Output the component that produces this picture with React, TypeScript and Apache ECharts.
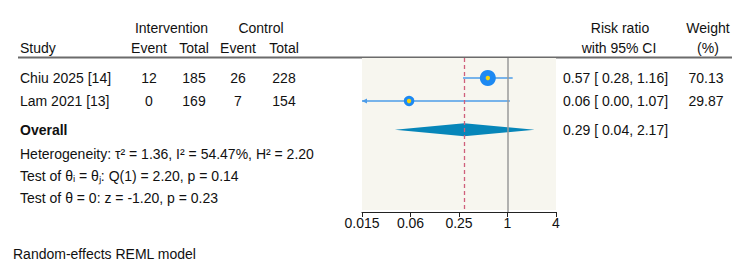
import React, { useEffect, useRef } from "react";
import * as echarts from "echarts";

// Study-level data
const studies = ["Chiu 2025 [14]", "Lam 2021 [13]"];
const interventionEvents = [12, 0];
const interventionTotals = [185, 169];
const controlEvents = [26, 7];
const controlTotals = [228, 154];
const riskRatios = [0.57, 0.06];
const ciLower = [0.28, 0.0];
const ciUpper = [1.16, 1.07];
const weights = [70.13, 29.87];

// Pooled estimate
const overallRR = 0.29;
const overallLower = 0.04;
const overallUpper = 2.17;

const statLines = [
  "Heterogeneity: \u03c4\u00b2 = 1.36, I\u00b2 = 54.47%, H\u00b2 = 2.20",
  "Test of \u03b8\u1d62 = \u03b8\u2c7c: Q(1) = 2.20, p = 0.14",
  "Test of \u03b8 = 0: z = -1.20, p = 0.23",
];

// Log axis (base 4) ticks and their printed labels
const tickValues = [0.015625, 0.0625, 0.25, 1, 4];
const tickLabels = ["0.015", "0.06", "0.25", "1", "4"];

// Row slots on the vertical axis
const studyRows = [1, 2];
const overallRow = 3.25;
const statRows = [4.3, 5.28, 6.22];

const FONT = "'Liberation Sans', Arial, Helvetica, sans-serif";
const FS = 14;
const X_MIN = tickValues[0];
const X_MAX = tickValues[tickValues.length - 1];
const Y_MIN = 0.13;
const Y_MAX = 6.83;

// Column anchors for the table text (grid 1 spans the full width)
const COL = {
  study: 20,
  intEvent: 149,
  intTotal: 194,
  ctlEvent: 238,
  ctlTotal: 284,
  ci: 563,
  weight: 706,
};

const fmt = (v: number) => v.toFixed(2);

function txt(x: number, y: number, text: string, align: string, weight = "normal") {
  return {
    type: "text",
    x,
    y,
    style: {
      text,
      align,
      verticalAlign: "middle",
      fontSize: FS,
      fontFamily: FONT,
      fontWeight: weight,
      fill: "#111",
    },
  };
}

export default function App() {
  const ref = useRef<HTMLDivElement>(null);

  useEffect(() => {
    document.body.style.margin = "0";
    const chart = echarts.init(ref.current!, null, { renderer: "svg" });

    const tableRows = studies.map((s, i) => [
      studyRows[i],
      s,
      String(interventionEvents[i]),
      String(interventionTotals[i]),
      String(controlEvents[i]),
      String(controlTotals[i]),
      `${fmt(riskRatios[i])} [ ${fmt(ciLower[i])}, ${fmt(ciUpper[i])}]`,
      fmt(weights[i]),
    ]);

    const option: any = {
      animation: false,
      grid: [
        { left: 362, top: 58, width: 194, height: 154 },
        { left: 0, top: 58, width: 750, height: 154 },
      ],
      xAxis: [
        {
          type: "log",
          logBase: 4,
          min: X_MIN,
          max: X_MAX,
          gridIndex: 0,
          splitLine: { show: false },
          axisLine: { show: true, lineStyle: { color: "#222", width: 1 } },
          axisTick: { show: true, length: 5, lineStyle: { color: "#222" } },
          axisLabel: {
            fontSize: FS,
            fontFamily: FONT,
            color: "#111",
            margin: 4,
            formatter: (v: number) => {
              let best = 0;
              tickValues.forEach((t, k) => {
                if (Math.abs(Math.log(t) - Math.log(v)) < Math.abs(Math.log(tickValues[best]) - Math.log(v))) best = k;
              });
              return tickLabels[best];
            },
          },
        },
        { type: "value", gridIndex: 1, min: 0, max: 750, show: false },
      ],
      yAxis: [
        { type: "value", gridIndex: 0, inverse: true, min: Y_MIN, max: Y_MAX, show: false },
        { type: "value", gridIndex: 1, inverse: true, min: Y_MIN, max: Y_MAX, show: false },
      ],
      graphic: [
        txt(171.5, 28, "Intervention", "center"),
        txt(261, 28, "Control", "center"),
        txt(620, 28, "Risk ratio", "center"),
        txt(708, 28, "Weight", "center"),
        txt(COL.study, 48, "Study", "left"),
        txt(COL.intEvent, 48, "Event", "center"),
        txt(COL.intTotal, 48, "Total", "center"),
        txt(COL.ctlEvent, 48, "Event", "center"),
        txt(COL.ctlTotal, 48, "Total", "center"),
        txt(619, 48, "with 95% CI", "center"),
        txt(708, 48, "(%)", "center"),
        {
          type: "line",
          shape: { x1: 18, y1: 57.5, x2: 732, y2: 57.5 },
          style: { stroke: "#6b6b6b", lineWidth: 2 },
        },
        txt(13, 254, "Random-effects REML model", "left"),
      ],
      series: [
        // plot-region backdrop
        {
          type: "line",
          xAxisIndex: 0,
          yAxisIndex: 0,
          data: [],
          z: 1,
          markArea: {
            silent: true,
            itemStyle: { color: "#f7f6ef" },
            data: [[{ yAxis: Y_MIN }, { yAxis: 6.74 }]],
          },
        },
        // reference lines: no effect and pooled estimate
        {
          type: "line",
          xAxisIndex: 0,
          yAxisIndex: 0,
          data: [],
          z: 2,
          markLine: {
            silent: true,
            symbol: "none",
            label: { show: false },
            data: [
              { xAxis: 1, lineStyle: { color: "#9a9a9a", width: 1.5, type: "solid" } },
              { xAxis: overallRR, lineStyle: { color: "#cf5f7b", width: 1.3, type: [4, 3] } },
            ],
          },
        },
        // pooled diamond
        {
          type: "custom",
          xAxisIndex: 0,
          yAxisIndex: 0,
          z: 3,
          data: [[overallRR, overallRow, overallLower, overallUpper]],
          renderItem: (params: any, api: any) => {
            const row = api.value(1);
            const c = api.coord([api.value(0), row]);
            const l = api.coord([api.value(2), row]);
            const h = api.coord([api.value(3), row]);
            return {
              type: "polygon",
              shape: {
                points: [
                  [l[0], c[1]],
                  [c[0], c[1] - 6.5],
                  [h[0], c[1]],
                  [c[0], c[1] + 6.5],
                ],
              },
              style: { fill: "#0786b9" },
            };
          },
        },
        // study estimates with confidence intervals
        {
          type: "custom",
          xAxisIndex: 0,
          yAxisIndex: 0,
          z: 4,
          data: studies.map((_, i) => [riskRatios[i], studyRows[i], ciLower[i], ciUpper[i], weights[i]]),
          renderItem: (params: any, api: any) => {
            const row = api.value(1);
            const low = api.value(2);
            const clipped = low < X_MIN;
            const p = api.coord([api.value(0), row]);
            const l = api.coord([clipped ? X_MIN : low, row]);
            const h = api.coord([api.value(3), row]);
            const r = 0.955 * Math.sqrt(api.value(4));
            const children: any[] = [
              {
                type: "line",
                shape: { x1: l[0], y1: p[1], x2: h[0], y2: p[1] },
                style: { stroke: "#4d9ce9", lineWidth: 1.6 },
              },
            ];
            if (clipped) {
              children.push({
                type: "polygon",
                shape: { points: [[l[0], p[1]], [l[0] + 5, p[1] - 2.5], [l[0] + 5, p[1] + 2.5]] },
                style: { fill: "#4d9ce9" },
              });
            }
            children.push(
              { type: "circle", shape: { cx: p[0], cy: p[1], r }, style: { fill: "#1d89f2" } },
              { type: "circle", shape: { cx: p[0], cy: p[1], r: 2.2 }, style: { fill: "#f4d20c" } }
            );
            return { type: "group", children };
          },
        },
        // table text for each study row
        {
          type: "custom",
          xAxisIndex: 1,
          yAxisIndex: 1,
          z: 5,
          data: tableRows,
          encode: { x: -1, y: 0 },
          renderItem: (params: any, api: any) => {
            const d = tableRows[params.dataIndex];
            const y = api.coord([0, d[0] as number])[1];
            const at = (x: number) => api.coord([x, d[0] as number])[0];
            return {
              type: "group",
              children: [
                txt(at(COL.study), y, d[1] as string, "left"),
                txt(at(COL.intEvent), y, d[2] as string, "center"),
                txt(at(COL.intTotal), y, d[3] as string, "center"),
                txt(at(COL.ctlEvent), y, d[4] as string, "center"),
                txt(at(COL.ctlTotal), y, d[5] as string, "center"),
                txt(at(COL.ci), y, d[6] as string, "left"),
                txt(at(COL.weight), y, d[7] as string, "center"),
              ],
            };
          },
        },
        // pooled row and test statistics
        {
          type: "custom",
          xAxisIndex: 1,
          yAxisIndex: 1,
          z: 5,
          data: [[overallRow], ...statRows.map((r) => [r])],
          encode: { x: -1, y: 0 },
          renderItem: (params: any, api: any) => {
            const i = params.dataIndex;
            const row = api.value(0);
            const y = api.coord([0, row])[1];
            const x0 = api.coord([COL.study, row])[0];
            if (i === 0) {
              return {
                type: "group",
                children: [
                  txt(x0, y, "Overall", "left", "bold"),
                  txt(api.coord([COL.ci, row])[0], y, `${fmt(overallRR)} [ ${fmt(overallLower)}, ${fmt(overallUpper)}]`, "left"),
                ],
              };
            }
            return txt(x0, y, statLines[i - 1], "left");
          },
        },
      ],
    };

    chart.setOption(option);
    return () => chart.dispose();
  }, []);

  return <div ref={ref} style={{ width: 750, height: 274 }} />;
}
